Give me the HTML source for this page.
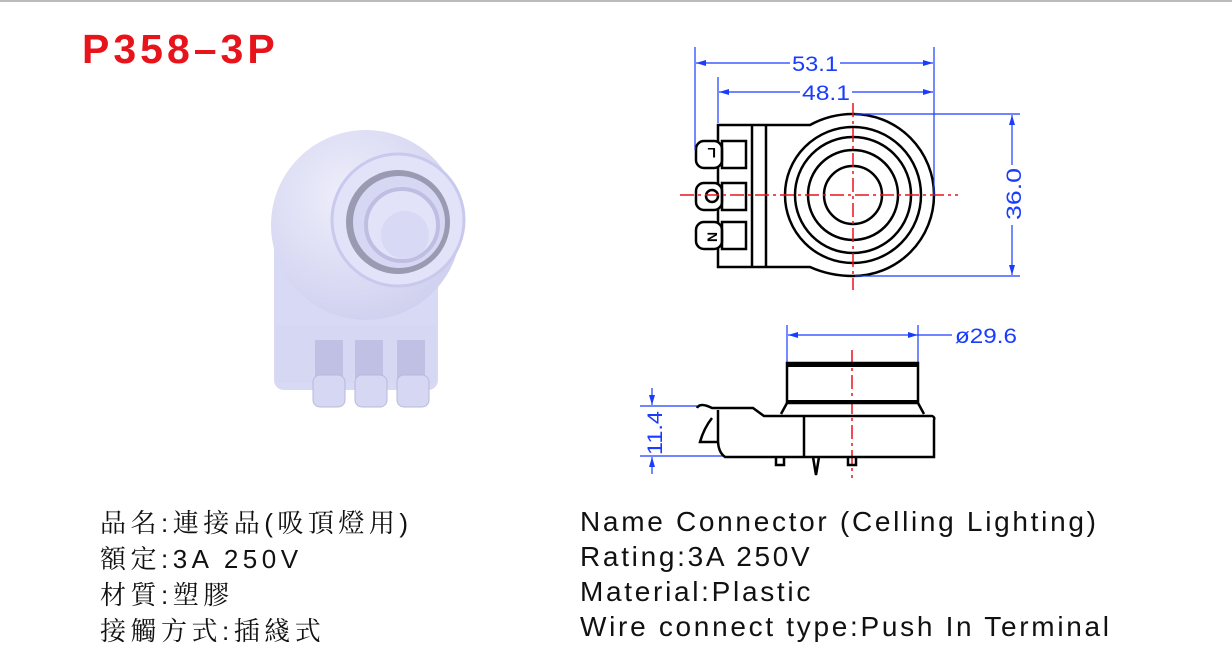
<!DOCTYPE html>
<html><head><meta charset="utf-8"><style>
body{margin:0;background:#fff;width:1232px;height:667px;overflow:hidden;position:relative;font-family:"Liberation Sans",sans-serif}
.t{position:absolute;white-space:nowrap}
</style></head><body>
<div style="position:absolute;left:0;top:0;width:1232px;height:2px;background:#bbb"></div>
<div class="t" style="left:82px;top:26px;font-size:41px;font-weight:bold;color:#e8141b;letter-spacing:4px">P358–3P</div>
<svg width="1232" height="667" style="position:absolute;left:0;top:0">
<defs><radialGradient id="g" cx="0.4" cy="0.35" r="0.7"><stop offset="0" stop-color="#eeeefb"/><stop offset="1" stop-color="#cfd0ef"/></radialGradient></defs>
<g>
<rect x="274" y="230" width="164" height="160" rx="10" fill="#d8d9f4"/>
<circle cx="366" cy="225" r="95" fill="url(#g)"/>
<circle cx="398" cy="220" r="66" fill="#e2e3f8" stroke="#c8c9ec" stroke-width="3"/>
<circle cx="398" cy="222" r="52" fill="#9a9ab2"/>
<circle cx="399" cy="222" r="46" fill="#d6d7f3"/>
<circle cx="402" cy="225" r="36" fill="#e2e3f8" stroke="#bdbee2" stroke-width="4"/>
<circle cx="405" cy="235" r="24" fill="#d8d9f4"/>
<rect x="276" y="325" width="160" height="58" fill="#d6d7f3"/>
<rect x="315" y="340" width="28" height="45" fill="#bfc0e4"/>
<rect x="355" y="340" width="28" height="45" fill="#bfc0e4"/>
<rect x="397" y="340" width="28" height="45" fill="#bfc0e4"/>
<rect x="313" y="375" width="32" height="32" rx="7" fill="#d6d7f3" stroke="#b8b9de"/>
<rect x="355" y="375" width="32" height="32" rx="7" fill="#d6d7f3" stroke="#b8b9de"/>
<rect x="397" y="375" width="32" height="32" rx="7" fill="#d6d7f3" stroke="#b8b9de"/>
</g>
<g fill="none" stroke="#000" stroke-width="2.5">
<path d="M718 125 H810 Q830 114 853 114 A81 81 0 1 1 853 276 Q830 276 810 267 H718 Z" fill="#fff"/>
<line x1="752" y1="125" x2="752" y2="267"/><line x1="766" y1="125" x2="766" y2="267"/>
<circle cx="853" cy="195" r="68"/><circle cx="853" cy="195" r="58"/><circle cx="853" cy="195" r="45"/><circle cx="853" cy="195" r="29"/>
<rect x="696" y="141" width="26" height="27" rx="8" fill="#fff"/>
<rect x="696" y="183" width="26" height="27" rx="8" fill="#fff"/>
<rect x="696" y="222" width="26" height="27" rx="8" fill="#fff"/>
<rect x="722" y="141" width="24" height="27"/><rect x="722" y="183" width="24" height="27"/><rect x="722" y="222" width="24" height="27"/>
<circle cx="712" cy="196" r="6"/>
</g>
<g font-family="Liberation Sans" font-weight="bold" font-size="14" fill="#000">
<text x="704" y="162" transform="rotate(180 710 155)" >L</text>
<text x="704" y="243" transform="rotate(-90 710 236)">N</text>
</g>
<g stroke="#e8141b" stroke-width="1.5" stroke-dasharray="14,4,3,4" fill="none">
<line x1="680" y1="195" x2="958" y2="195"/><line x1="853" y1="103" x2="853" y2="290"/>
<line x1="852" y1="350" x2="852" y2="478"/>
</g>
<g stroke="#1a3cff" stroke-width="1.2" fill="none">
<line x1="695" y1="47" x2="695" y2="150"/><line x1="934" y1="47" x2="934" y2="195"/>
<line x1="696" y1="63" x2="790" y2="63"/><line x1="840" y1="63" x2="933" y2="63"/>
<line x1="718" y1="77" x2="718" y2="123"/>
<line x1="719" y1="92" x2="800" y2="92"/><line x1="852" y1="92" x2="933" y2="92"/>
<line x1="855" y1="114" x2="1020" y2="114"/><line x1="855" y1="276" x2="1020" y2="276"/>
<line x1="1012" y1="115" x2="1012" y2="165"/><line x1="1012" y1="225" x2="1012" y2="275"/>
<line x1="787" y1="325" x2="787" y2="362"/><line x1="918" y1="325" x2="918" y2="362"/>
<line x1="788" y1="335" x2="952" y2="335"/>
<line x1="640" y1="406" x2="697" y2="406"/><line x1="640" y1="456" x2="725" y2="456"/>
<line x1="652" y1="388" x2="652" y2="405"/><line x1="652" y1="457" x2="652" y2="474"/>
</g>
<g fill="#1a3cff">
<path d="M696 63l10-3v6z"/><path d="M933 63l-10-3v6z"/>
<path d="M719 92l10-3v6z"/><path d="M933 92l-10-3v6z"/>
<path d="M1012 115l-3 10h6z"/><path d="M1012 275l-3-10h6z"/>
<path d="M788 335l10-3v6z"/><path d="M918 335l-10-3v6z"/>
<path d="M652 405l-3-10h6z"/><path d="M652 457l-3 10h6z"/>
</g>
<g font-family="Liberation Sans" font-size="21" fill="#1a3cff">
<text x="792" y="71" textLength="46" lengthAdjust="spacingAndGlyphs">53.1</text>
<text x="802" y="100" textLength="48" lengthAdjust="spacingAndGlyphs">48.1</text>
<text x="955" y="343" textLength="62" lengthAdjust="spacingAndGlyphs">ø29.6</text>
<text transform="translate(1021 220) rotate(-90)" textLength="52" lengthAdjust="spacingAndGlyphs">36.0</text>
<text transform="translate(662 455) rotate(-90)" textLength="44" lengthAdjust="spacingAndGlyphs">11.4</text>
</g>
<g fill="none" stroke="#000" stroke-width="2.5">
<rect x="787" y="363" width="131" height="40"/>
<line x1="787" y1="365" x2="918" y2="365" stroke-width="4"/>
<line x1="787" y1="402" x2="918" y2="402" stroke-width="4"/>
<path d="M787 403 L781 414 M918 403 L924 414"/>
<path d="M697 408 Q700 402 712 408 L753 408 L764 416 L932 416 Q935 417 934 420 V457 H725 Q718 452 718 440 V410"/>
<path d="M712 418 Q704 428 700 442 L718 442"/>
<line x1="804" y1="416" x2="804" y2="457"/>
<path d="M776 457 v8 h8 v-8 M848 457 v8 h8 v-8 M813 457 l3 18 l3 -18"/>
</g>
</svg>
<div class="t" style="left:100px;top:505px;font-size:26px;line-height:36px;letter-spacing:4.5px;font-family:'Liberation Sans','Noto Serif CJK SC',serif;color:#111">品名:連接品(吸頂燈用)<br>額定:3A 250V<br>材質:塑膠<br>接觸方式:插綫式</div>
<div class="t" style="left:580px;top:504px;font-size:28px;line-height:35px;letter-spacing:2.7px;color:#111">Name Connector (Celling Lighting)<br>Rating:3A 250V<br>Material:Plastic<br>Wire connect type:Push In Terminal</div>
</body></html>
